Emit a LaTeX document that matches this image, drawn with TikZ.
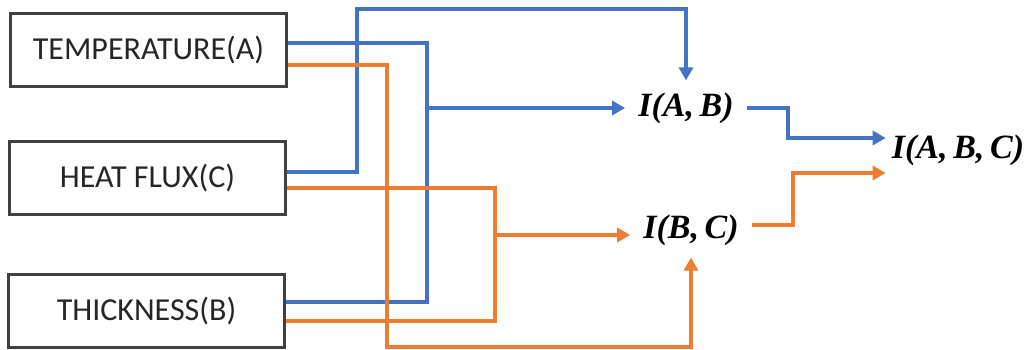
\documentclass[tikz,border=0pt]{standalone}
\usepackage{fontspec}
\newfontfamily\boxfont{Carlito}
\newfontfamily\labelfont{Liberation Serif}
\usetikzlibrary{arrows.meta, positioning}
\definecolor{lineblue}{HTML}{4472C4}
\definecolor{lineorange}{HTML}{ED7D31}

\begin{document}
\begin{tikzpicture}[
      x=1pt, y=-1pt,
      box/.style={draw=black!75, line width=2.4pt, minimum width=276pt, minimum height=73pt, font=\boxfont\fontsize{32}{38}\selectfont, text=black!85},
      mi/.style={inner xsep=13pt, inner ysep=12pt, font=\labelfont\bfseries\itshape\fontsize{34}{40}\selectfont},
      bl/.style={draw=lineblue, line width=3.4pt},
      og/.style={draw=lineorange, line width=3.4pt},
      ar/.style={-{Triangle[length=13pt, width=14pt]}}
    ]
    \useasboundingbox (0,0) rectangle (1036,350);
    \node[box] (temp) at (148.5,50) {TEMPERATURE(A)};
    \node[box] (flux) at (147.5,178) {HEAT FLUX(C)};
    \node[box] (thick) at (146.5,311) {THICKNESS(B)};
    \node[mi] (ab) at (686,108) {I(A,\,B)};
    \node[mi] (bc) at (691,230) {I(B,\,C)};
    \node[mi, inner xsep=6pt] (abc) at (958,150) {I(A,\,B,\,C)};
    % junctions and bends
    \coordinate (ja) at (427,108);
    \coordinate (jb) at (495,235);
    \coordinate (hi) at (357,9);
    \coordinate (lo) at (387,347);
    \draw[bl] ([yshift=7pt]temp.east) -| (ja) |- ([yshift=9pt]thick.east);
    \draw[bl, ar] (ja) -- (ab.west);
    \draw[bl, ar] ([yshift=6pt]flux.east) -| (hi) -| (ab.north);
    \draw[og] ([yshift=-10pt]flux.east) -| (jb) |- ([yshift=-10pt]thick.east);
    \draw[og, ar] (jb) -- (jb -| bc.west);
    \draw[og, ar] ([yshift=-15pt]temp.east) -| (lo) -| (bc.south);
    \draw[bl, ar] (ab.east) -- ++(41,0) |- ([yshift=12pt]abc.west);
    \draw[og, ar] ([yshift=5pt]bc.east) -- ++(41,0) |- ([yshift=-23pt]abc.west);
  \end{tikzpicture}
\end{document}
